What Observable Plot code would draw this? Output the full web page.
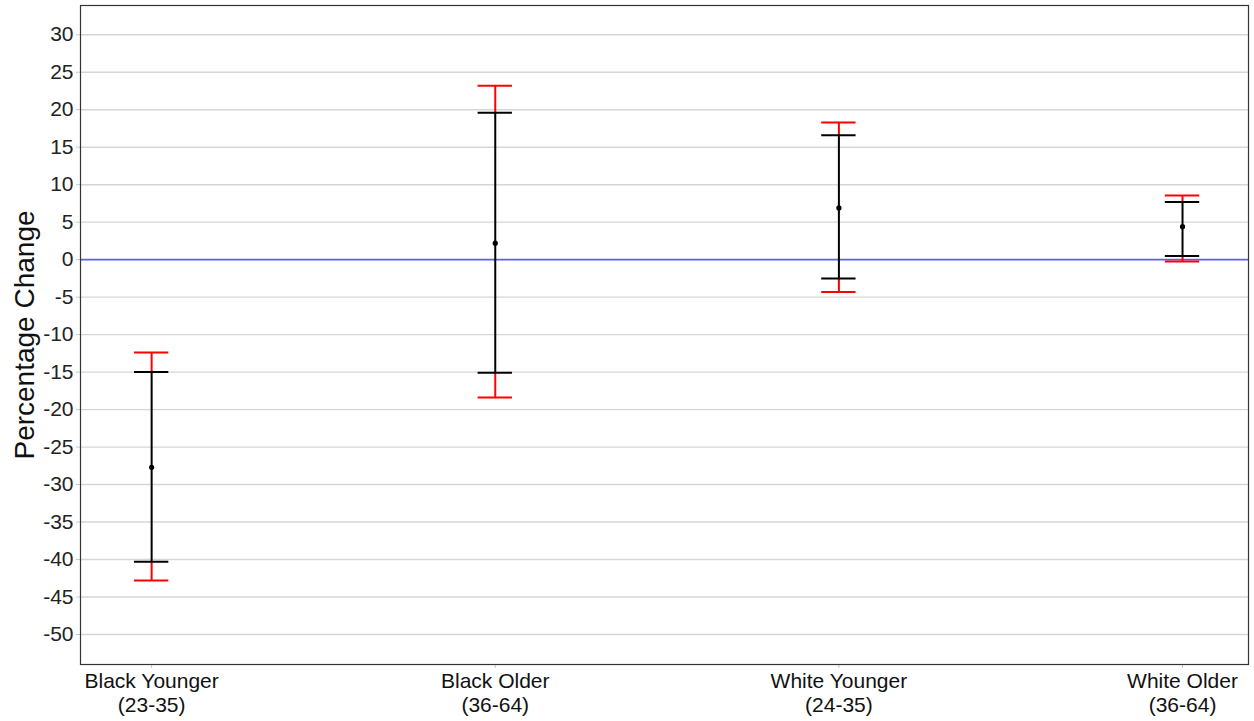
<!DOCTYPE html>
<html>
<head>
<meta charset="utf-8">
<script src="https://cdn.jsdelivr.net/npm/d3@7"></script>
<script src="https://cdn.jsdelivr.net/npm/@observablehq/plot@0.6"></script>
<style>
  html, body { margin: 0; padding: 0; background: #fff; }
  #chart svg { display: block; }
</style>
</head>
<body>
<div id="chart"></div>
<script>
// Group labels (two lines each) and their position on the x axis
const groups = ["Black Younger\n(23-35)", "Black Older\n(36-64)", "White Younger\n(24-35)", "White Older\n(36-64)"];
const groupIndex = [1, 2, 3, 4];

// Point estimates of percentage change
const estimate = [-27.7, 2.2, 6.9, 4.4];
// Inner interval (black)
const innerLow = [-40.3, -15.1, -2.5, 0.5];
const innerHigh = [-15.0, 19.6, 16.6, 7.7];
// Outer interval (red)
const outerLow = [-42.8, -18.4, -4.3, -0.25];
const outerHigh = [-12.4, 23.2, 18.3, 8.55];

// Y axis ticks
const yTicks = d3.range(-50, 31, 5);

const rows = groups.map((g, i) => ({
  label: g,
  x: groupIndex[i],
  est: estimate[i],
  lo: innerLow[i],
  hi: innerHigh[i],
  olo: outerLow[i],
  ohi: outerHigh[i]
}));

const capHalf = 0.05; // error-bar cap half width in x units
const font = "'Liberation Sans', Arial, sans-serif";

const chart = Plot.plot({
  width: 1254,
  height: 721,
  marginLeft: 80,
  marginRight: 6,
  marginTop: 5,
  marginBottom: 57,
  style: { fontFamily: font, background: "#fff" },
  x: { type: "linear", domain: [0.793, 4.192] },
  y: { domain: [-54.0, 33.9] },
  marks: [
    // horizontal gridlines (zero gets its own reference line)
    Plot.ruleY(yTicks.filter(d => d !== 0), { stroke: "#d6d6d6", strokeWidth: 1.4 }),
    // reference line at zero
    Plot.ruleY([0], { stroke: "#5c5cff", strokeWidth: 1.6 }),
    // outer (red) interval
    Plot.ruleX(rows, { x: "x", y1: "olo", y2: "lo", stroke: "#ff0000", strokeWidth: 2 }),
    Plot.ruleX(rows, { x: "x", y1: "hi", y2: "ohi", stroke: "#ff0000", strokeWidth: 2 }),
    Plot.ruleY(rows, { y: "olo", x1: d => d.x - capHalf, x2: d => d.x + capHalf, stroke: "#ff0000", strokeWidth: 2 }),
    Plot.ruleY(rows, { y: "ohi", x1: d => d.x - capHalf, x2: d => d.x + capHalf, stroke: "#ff0000", strokeWidth: 2 }),
    // inner (black) interval
    Plot.ruleX(rows, { x: "x", y1: "lo", y2: "hi", stroke: "#000", strokeWidth: 2 }),
    Plot.ruleY(rows, { y: "lo", x1: d => d.x - capHalf, x2: d => d.x + capHalf, stroke: "#000", strokeWidth: 2 }),
    Plot.ruleY(rows, { y: "hi", x1: d => d.x - capHalf, x2: d => d.x + capHalf, stroke: "#000", strokeWidth: 2 }),
    // point estimates
    Plot.dot(rows, { x: "x", y: "est", r: 2.6, fill: "#000", stroke: "none" }),
    // axes
    Plot.axisY({
      ticks: yTicks,
      tickFormat: d => String(d),
      tickSize: 4,
      tickPadding: 3,
      stroke: "#c8c8c8",
      fill: "#222",
      fontSize: 21,
      label: null
    }),
    Plot.axisX({
      ticks: groupIndex,
      tickFormat: d => groups[d - 1],
      tickSize: 4,
      tickPadding: 2,
      stroke: "#c8c8c8",
      fill: "#111",
      fontSize: 21,
      lineHeight: 1.15,
      label: null
    }),
    // panel border
    Plot.frame({ stroke: "#333", strokeWidth: 1.2 }),
    // y axis title
    Plot.text(["Percentage Change"], {
      frameAnchor: "left",
      textAnchor: "middle",
      rotate: -90,
      dx: -55,
      fontSize: 28,
      fill: "#111"
    })
  ]
});

document.getElementById("chart").appendChild(chart);
</script>
</body>
</html>
